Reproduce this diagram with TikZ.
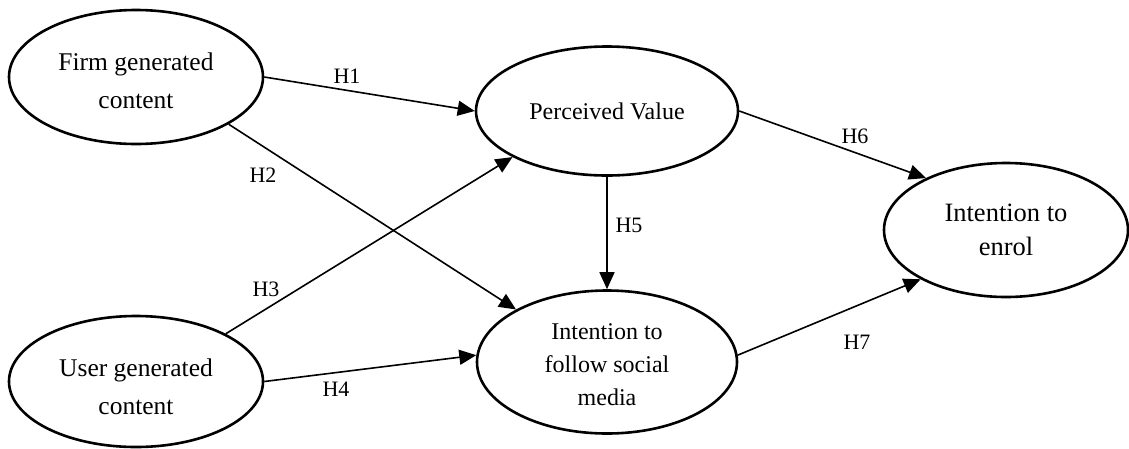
\documentclass[tikz,border=0pt]{standalone}
\usepackage{fontspec}
\setmainfont{Liberation Serif}
\usetikzlibrary{shapes.geometric,arrows.meta}
\newcommand\lowtext[2]{\raisebox{-#1}[\height][\depth]{\begin{tabular}{@{}c@{}}#2\end{tabular}}}
\begin{document}
\begin{tikzpicture}[x=1pt,y=-1pt,
  construct/.style={ellipse,draw,line width=2.6pt,inner sep=0pt,align=center},
  hyp/.style={-{Triangle[length=17pt,width=15pt]},line width=1.6pt},
  hlabel/.style={font=\fontsize{22}{26}\selectfont,inner sep=0pt}]
\useasboundingbox (0,0) rectangle (1129,448);
\node[construct,minimum width=254pt,minimum height=134pt,font=\fontsize{25.5}{38}\selectfont] (fgc) at (136,77) {\lowtext{5pt}{Firm generated\\content}};
\node[construct,minimum width=254pt,minimum height=131pt,font=\fontsize{25.5}{38}\selectfont] (ugc) at (136,381.5) {\lowtext{6pt}{User generated\\content}};
\node[construct,minimum width=262pt,minimum height=129pt,font=\fontsize{24}{30}\selectfont] (pv) at (607,111) {Perceived Value};
\node[construct,minimum width=260pt,minimum height=143pt,font=\fontsize{24}{33}\selectfont] (ifsm) at (607,362) {\lowtext{4pt}{Intention to\\follow social\\media}};
\node[construct,minimum width=244pt,minimum height=134pt,font=\fontsize{26.5}{34}\selectfont] (ite) at (1006,230) {\lowtext{2pt}{Intention to\\enrol}};
\draw[hyp] (fgc.east) -- (pv.west);
\draw[hyp] (fgc.-27.8) -- (ifsm.150.3);
\draw[hyp] (ugc.28) -- (pv.206.6);
\draw[hyp] (ugc.east) -- (ifsm.177.4);
\draw[hyp] (pv.south) -- (ifsm.north);
\draw[hyp] (pv.east) -- (ite.147.3);
\draw[hyp] (ifsm.3.7) -- (ite.210.8);
\node[hlabel] (h1) at (347,76) {H1};
\node[hlabel] (h2) at (263,175) {H2};
\node[hlabel] (h3) at (266,289) {H3};
\node[hlabel] (h4) at (336,389) {H4};
\node[hlabel] (h5) at (629,225) {H5};
\node[hlabel] (h6) at (855,136) {H6};
\node[hlabel] (h7) at (857,342) {H7};
\end{tikzpicture}
\end{document}
